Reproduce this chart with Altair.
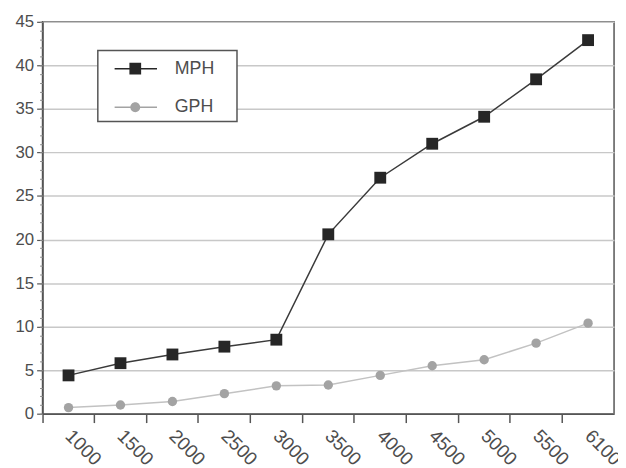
import altair as alt
import pandas as pd

rpm = ["1000", "1500", "2000", "2500", "3000", "3500", "4000", "4500", "5000", "5500", "6100"]
mph = [4.4, 5.8, 6.8, 7.7, 8.5, 20.6, 27.1, 31.0, 34.1, 38.4, 42.9]
gph = [0.7, 1.0, 1.4, 2.3, 3.2, 3.3, 4.4, 5.5, 6.2, 8.1, 10.4]

series_names = ["MPH", "GPH"]
marker_colors = ["#262626", "#a3a3a3"]
line_colors = ["#3a3a3a", "#c2c2c2"]
marker_shapes = ["square", "circle"]
marker_sizes = [144, 90]
y_ticks = list(range(0, 50, 5))
y_minor = list(range(0, 46))

rows = []
for name, vals in zip(series_names, [mph, gph]):
    for r, v in zip(rpm, vals):
        rows.append({"rpm": r, "series": name, "value": v})
df = pd.DataFrame(rows)

FONT = "Liberation Sans"
TXT = "#4d4d4d"
AX = "#555555"

x_scale = alt.Scale(type="band", paddingInner=0, paddingOuter=0)
y_scale = alt.Scale(domain=[0, 45], nice=False)

# legend symbols: line segment with marker (last sub-path only widens the box)
mph_path = "M-0.11,-0.056H3.07V0.056H-0.11Z M1.0,-0.44H1.88V0.44H1.0Z M8.7,0Z"
gph_path = ("M-0.11,-0.056H3.07V0.056H-0.11Z "
            "M1.81,0A0.37,0.37 0 1,1 1.07,0A0.37,0.37 0 1,1 1.81,0Z M8.7,0Z")
legend_shapes = [mph_path, gph_path]

legend_def = alt.Legend(
    title=None, orient="none", legendX=56, legendY=29,
    symbolSize=729, symbolStrokeWidth=0,
    labelOffset=46, labelFont=FONT, labelFontSize=18, labelColor=TXT,
    padding=5, rowPadding=16,
    strokeColor=AX, fillColor="white")

lines = alt.Chart(df).mark_line(strokeWidth=1.5).encode(
    x=alt.X("rpm:O", sort=rpm, scale=x_scale,
            axis=alt.Axis(orient="bottom", title=None, ticks=False, domain=False,
                          grid=False, labelAngle=45, labelAlign="left",
                          labelBaseline="middle", labelPadding=19,
                          labelFont=FONT, labelFontSize=19, labelColor=TXT)),
    y=alt.Y("value:Q", scale=y_scale,
            axis=alt.Axis(orient="left", title=None, values=y_ticks,
                          grid=True, gridColor="#c8c8c8", gridWidth=1.5,
                          domainColor=AX, domainWidth=1.5,
                          tickColor=AX, tickSize=6, tickWidth=1.2,
                          labelFont=FONT, labelFontSize=17, labelColor=TXT,
                          labelPadding=3)),
    stroke=alt.Stroke("series:N", scale=alt.Scale(domain=series_names, range=line_colors),
                      legend=None),
)

points = alt.Chart(df).mark_point(filled=True, opacity=1, strokeWidth=0).encode(
    x=alt.X("rpm:O", sort=rpm, scale=x_scale,
            axis=alt.Axis(orient="bottom", title=None, labels=False, grid=False,
                          bandPosition=0, tickSize=9, tickColor=AX, tickWidth=1.5,
                          domainColor=AX, domainWidth=1.5)),
    y=alt.Y("value:Q", scale=y_scale,
            axis=alt.Axis(orient="left", title=None, values=y_minor, labels=False,
                          grid=False, domain=False, tickSize=3, tickColor="#888888",
                          tickWidth=1)),
    color=alt.Color("series:N", scale=alt.Scale(domain=series_names, range=marker_colors),
                    legend=None),
    shape=alt.Shape("series:N", scale=alt.Scale(domain=series_names, range=marker_shapes),
                    legend=None),
    size=alt.Size("series:N", scale=alt.Scale(domain=series_names, range=marker_sizes),
                  legend=None),
)

legend_layer = alt.Chart(df).transform_filter("false").mark_point(
    filled=True, opacity=1, strokeWidth=0
).encode(
    color=alt.Color("series:N", scale=alt.Scale(domain=series_names, range=marker_colors),
                    legend=legend_def),
    shape=alt.Shape("series:N", scale=alt.Scale(domain=series_names, range=legend_shapes),
                    legend=legend_def),
)

chart = alt.layer(lines, points, legend_layer).resolve_axis(
    x="independent", y="independent"
).resolve_scale(shape="independent", color="independent").properties(
    width=579, height=397,
    padding={"left": 35, "top": 11, "right": 4, "bottom": 52},
    autosize=alt.AutoSizeParams(type="none"),
).configure_view(stroke=AX, strokeWidth=1.5).configure_legend(strokeWidth=1.5)

chart.save("out.html", embed_options={"renderer": "svg", "actions": False})
